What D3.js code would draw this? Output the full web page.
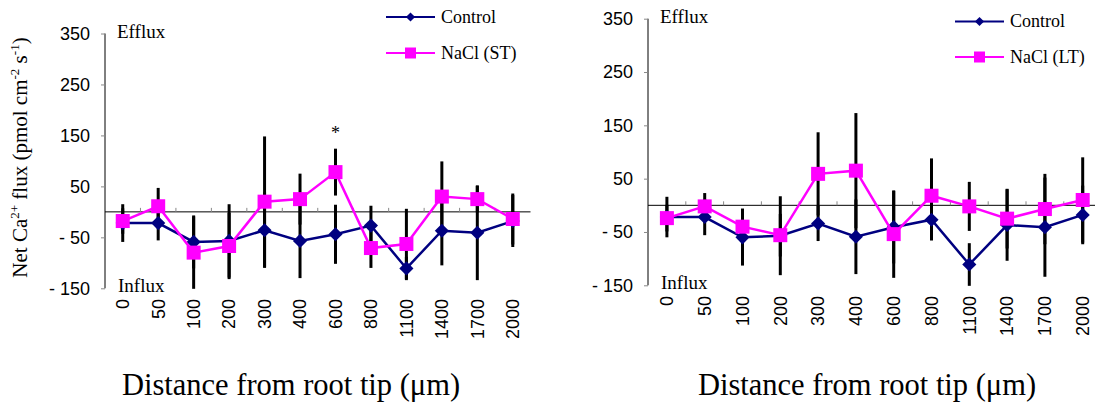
<!DOCTYPE html>
<html>
<head>
<meta charset="utf-8">
<script src="https://cdn.jsdelivr.net/npm/d3@7"></script>
<style>
  html, body { margin: 0; padding: 0; background: #fff; }
  svg { display: block; }
  .serif { font-family: "Liberation Serif", Tinos, "Times New Roman", Times, "DejaVu Serif", serif; }
  .sans { font-family: "Liberation Sans", Arimo, Arial, Helvetica, sans-serif; }
</style>
</head>
<body>
<svg id="chart" width="1095" height="411"></svg>
<script>
// Distances from the root tip (µm)
const distances = ["0", "50", "100", "200", "300", "400", "600", "800", "1100", "1400", "1700", "2000"];
const yTicks = [350, 250, 150, 50, -50, -150];

// Short-term NaCl panel
const ctrlST     = [-22, -22, -59, -57, -36, -57, -44, -27, -111, -37, -41, -18];
const ctrlErrST  = [37, 34, 52, 72, 74, 73, 58, 39, 23, 68, 93, 51];
const naclST     = [-18, 11, -80, -67, 20, 25, 78, -71, -63, 30, 25, -14];
const naclErrST  = [25, 36, 71, 65, 128, 50, 46, 39, 69, 69, 26, 50];

// Long-term NaCl panel
const ctrlLT     = [-22, -22, -60, -57, -34, -59, -41, -27, -111, -37, -41, -18];
const ctrlErrLT  = [38, 34, 53, 74, 33, 70, 68, 39, 40, 67, 93, 55];
const naclLT     = [-24, -2, -40, -56, 59, 65, -54, 18, -2, -25, -7, 10];
const naclErrLT  = [25, 25, 34, 40, 78, 108, 82, 70, 46, 56, 66, 80];

const NAVY = "#000080";
const MAGENTA = "#FF00FF";

const svg = d3.select("#chart");

function drawPanel(p) {
  const g = svg.append("g");
  const x = d3.scaleBand().domain(distances).range([p.x0, p.x1]);
  const y = d3.scaleLinear().domain([-150, 350]).range([p.yBottom, p.yTop]);
  const cx = d => x(d) + x.bandwidth() / 2;

  // Zero line with category ticks
  g.append("line")
    .attr("x1", p.x0).attr("x2", p.x1)
    .attr("y1", y(0)).attr("y2", y(0))
    .attr("stroke", "#000").attr("stroke-width", 1);
  g.selectAll(".xtick").data(distances.slice(1)).enter().append("line")
    .attr("x1", d => x(d)).attr("x2", d => x(d))
    .attr("y1", y(0)).attr("y2", y(0) - 4)
    .attr("stroke", "#888").attr("stroke-width", 1);

  // Y axis
  const yAxis = d3.axisLeft(y).tickValues(yTicks).tickSize(4).tickPadding(11)
    .tickFormat(v => v < 0 ? "- " + Math.abs(v) : String(v));
  const ya = g.append("g").attr("transform", `translate(${p.x0},0)`).call(yAxis);
  ya.attr("font-family", null).attr("font-size", null);
  ya.select(".domain").attr("stroke", "#000").attr("d", `M0,${p.yTop}V${p.yBottom}`);
  ya.selectAll(".tick line").attr("stroke", "#888");
  ya.selectAll(".tick text").attr("class", "sans").style("font-size", "18px").attr("fill", "#000");

  // Category labels, rotated
  g.selectAll(".xlab").data(distances).enter().append("text")
    .attr("class", "sans")
    .attr("transform", d => `translate(${cx(d)},${p.labelTop}) rotate(-90)`)
    .attr("text-anchor", "end").attr("dy", "0.35em")
    .style("font-size", "18px")
    .text(d => d);

  // Efflux / Influx
  g.append("text").attr("class", "serif").attr("x", p.x0 + 12).attr("y", p.yTop + 4.5)
    .style("font-size", "19px").text("Efflux");
  g.append("text").attr("class", "serif").attr("x", p.x0 + 13).attr("y", p.yBottom + 4)
    .style("font-size", "19px").text("Influx");

  // Error bars for both series
  const series = [
    { vals: p.ctrl, errs: p.ctrlErr, color: NAVY, shape: "diamond" },
    { vals: p.nacl, errs: p.naclErr, color: MAGENTA, shape: "square" }
  ];
  series.forEach(s => {
    g.selectAll(null).data(distances).enter().append("line")
      .attr("x1", d => cx(d)).attr("x2", d => cx(d))
      .attr("y1", (d, i) => y(s.vals[i] + s.errs[i]))
      .attr("y2", (d, i) => y(s.vals[i] - s.errs[i]))
      .attr("stroke", "#000").attr("stroke-width", 3);
  });

  // Lines and markers
  series.forEach(s => {
    const line = d3.line().x((d, i) => cx(distances[i])).y(d => y(d));
    g.append("path").datum(s.vals).attr("d", line)
      .attr("fill", "none").attr("stroke", s.color).attr("stroke-width", 2.5);
    if (s.shape === "diamond") {
      g.selectAll(null).data(s.vals).enter().append("path")
        .attr("d", d3.symbol(d3.symbolSquare, 100)())
        .attr("transform", (d, i) => `translate(${cx(distances[i])},${y(d)}) rotate(45)`)
        .attr("fill", s.color);
    } else {
      g.selectAll(null).data(s.vals).enter().append("rect")
        .attr("x", (d, i) => cx(distances[i]) - 7).attr("y", d => y(d) - 7)
        .attr("width", 14).attr("height", 14)
        .attr("fill", s.color);
    }
  });

  // Legend
  const lg = g.append("g");
  const items = [
    { label: "Control", color: NAVY, shape: "diamond", y: p.legY0 },
    { label: p.naclLabel, color: MAGENTA, shape: "square", y: p.legY1 }
  ];
  items.forEach(it => {
    lg.append("line").attr("x1", p.legX).attr("x2", p.legX + 49)
      .attr("y1", it.y).attr("y2", it.y)
      .attr("stroke", it.color).attr("stroke-width", 2);
    const mx = p.legX + 24.5;
    if (it.shape === "diamond") {
      lg.append("path").attr("d", d3.symbol(d3.symbolSquare, 42)())
        .attr("transform", `translate(${mx},${it.y}) rotate(45)`).attr("fill", it.color);
    } else {
      lg.append("rect").attr("x", mx - 5.5).attr("y", it.y - 5.5)
        .attr("width", 11).attr("height", 11).attr("fill", it.color);
    }
    lg.append("text").attr("class", "serif").attr("x", p.legX + 55).attr("y", it.y).attr("dy", "0.33em")
      .style("font-size", "18px").text(it.label);
  });

  // X axis title
  g.append("text").attr("class", "serif").attr("x", p.titleX).attr("y", 395)
    .attr("text-anchor", "middle").style("font-size", "30.5px")
    .text("Distance from root tip (\u03BCm)");

  return { x, y, cx, g };
}

const left = drawPanel({
  x0: 105, x1: 530.5, yTop: 33.5, yBottom: 288.3, labelTop: 299,
  ctrl: ctrlST, ctrlErr: ctrlErrST, nacl: naclST, naclErr: naclErrST,
  naclLabel: "NaCl (ST)", legX: 386, legY0: 17, legY1: 53, titleX: 291
});

const right = drawPanel({
  x0: 648, x1: 1101.6, yTop: 18.7, yBottom: 285.3, labelTop: 296,
  ctrl: ctrlLT, ctrlErr: ctrlErrLT, nacl: naclLT, naclErr: naclErrLT,
  naclLabel: "NaCl (LT)", legX: 955, legY0: 21.5, legY1: 57, titleX: 867
});

// Significance mark above the 600 µm NaCl (ST) point
const iSig = distances.indexOf("600");
left.g.append("text").attr("class", "serif")
  .attr("x", left.cx("600")).attr("y", left.y(naclST[iSig] + naclErrST[iSig]) - 10)
  .attr("text-anchor", "middle").style("font-size", "18px")
  .text("*");

// Y axis title with superscripts
const yt = svg.append("text").attr("class", "serif")
  .attr("transform", "translate(27,157.5) rotate(-90)")
  .attr("text-anchor", "middle").style("font-size", "21px");
yt.append("tspan").text("Net Ca");
yt.append("tspan").attr("dy", -8).style("font-size", "13px").text("2+");
yt.append("tspan").attr("dy", 8).text(" flux (pmol cm");
yt.append("tspan").attr("dy", -8).style("font-size", "13px").text("-2");
yt.append("tspan").attr("dy", 8).text(" s");
yt.append("tspan").attr("dy", -8).style("font-size", "13px").text("-1");
yt.append("tspan").attr("dy", 8).text(")");
</script>
</body>
</html>
